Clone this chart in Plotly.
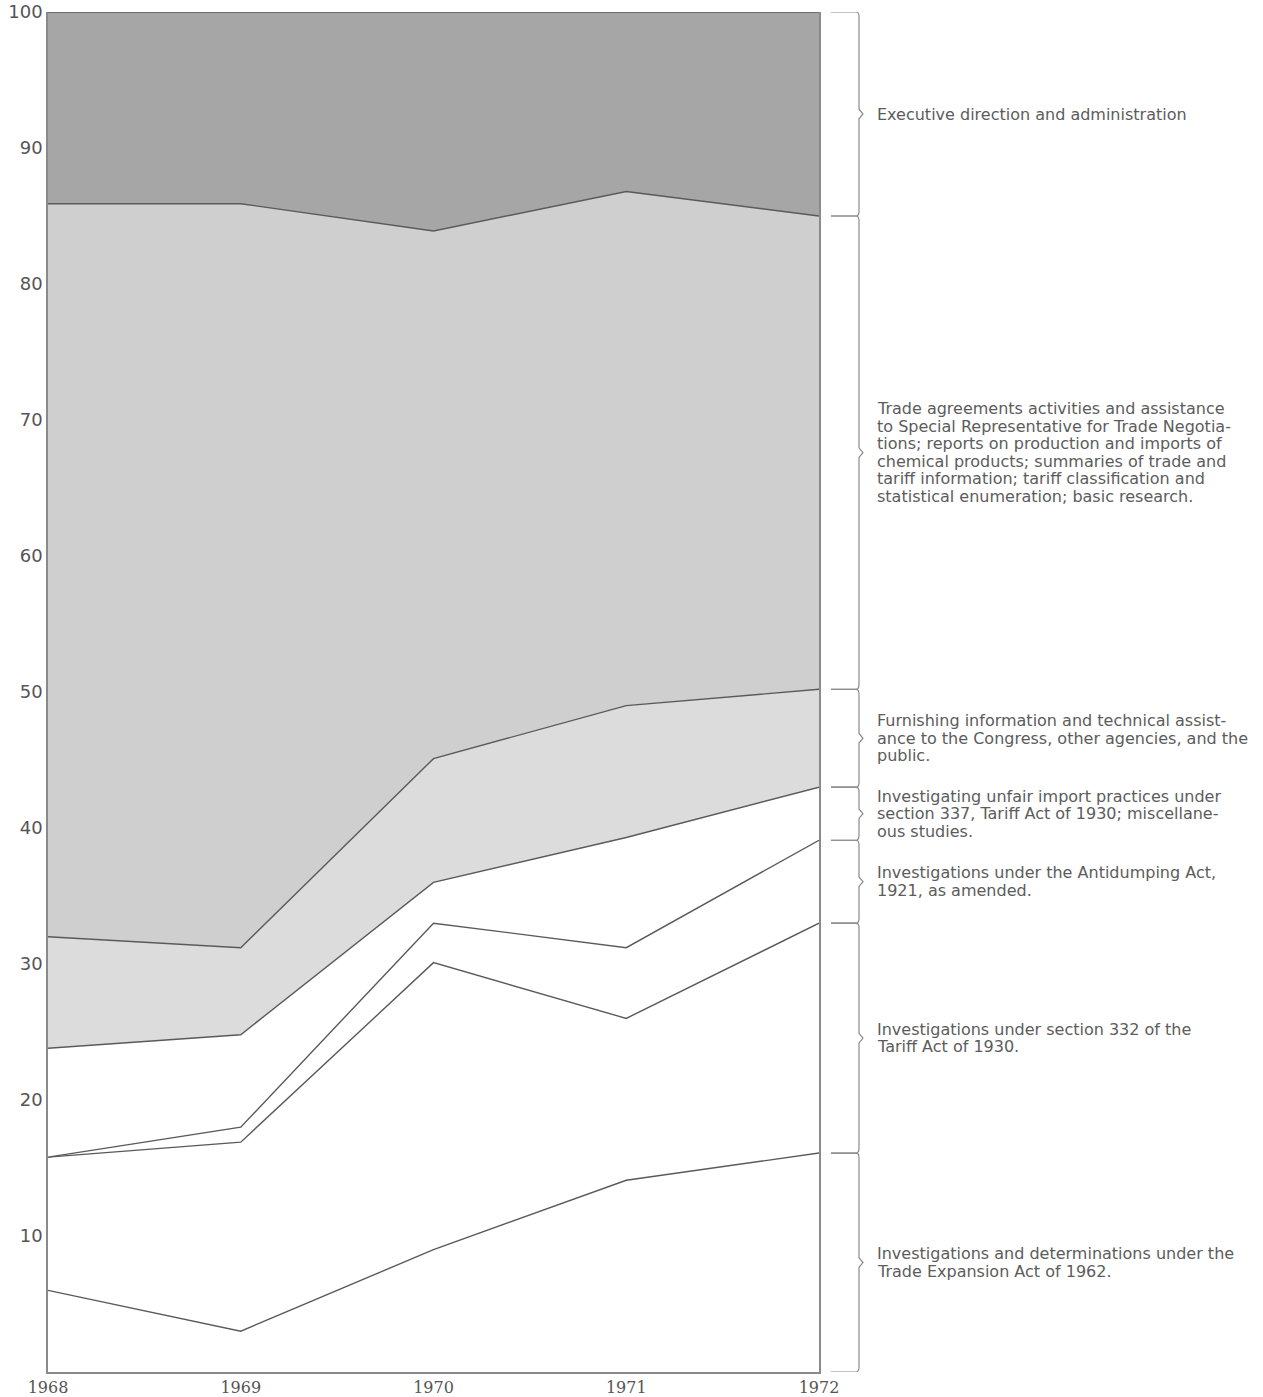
import plotly.graph_objects as go

years = [1968, 1969, 1970, 1971, 1972]

# Percent of total for each activity (bottom to top of the stack)
trade_expansion = [6.0, 3.0, 9.0, 14.1, 16.1]
section_332 = [9.8, 13.9, 21.1, 11.9, 16.9]
antidumping = [0.0, 1.1, 2.9, 5.2, 6.1]
unfair_337 = [8.0, 6.8, 3.0, 8.1, 3.9]
furnishing = [8.2, 6.4, 9.1, 9.7, 7.2]
trade_agreements = [53.9, 54.7, 38.8, 37.8, 34.8]
executive = [14.1, 14.1, 16.1, 13.2, 15.0]

series_names = [
    "Trade Expansion Act",
    "Section 332",
    "Antidumping Act",
    "Section 337",
    "Furnishing information",
    "Trade agreements",
    "Executive direction",
]
series_values = [trade_expansion, section_332, antidumping, unfair_337,
                 furnishing, trade_agreements, executive]
fill_colors = ["#ffffff", "#ffffff", "#ffffff", "#ffffff",
               "#dcdcdc", "#cfcfcf", "#a6a6a6"]

labels = [
    ["Investigations and determinations under the",
     "Trade Expansion Act of 1962."],
    ["Investigations under section 332 of the",
     "Tariff Act of 1930."],
    ["Investigations under the Antidumping Act,",
     "1921, as amended."],
    ["Investigating unfair import practices under",
     "section 337, Tariff Act of 1930; miscellane-",
     "ous studies."],
    ["Furnishing information and technical assist-",
     "ance to the Congress, other agencies, and the",
     "public."],
    ["Trade agreements activities and assistance",
     "to Special Representative for Trade Negotia-",
     "tions; reports on production and imports of",
     "chemical products; summaries of trade and",
     "tariff information; tariff classification and",
     "statistical enumeration; basic research."],
    ["Executive direction and administration"],
]

y_ticks = [10, 20, 30, 40, 50, 60, 70, 80, 90, 100]

fig = go.Figure()
for name, vals, col in zip(series_names, series_values, fill_colors):
    fig.add_trace(go.Scatter(
        x=years, y=vals, name=name, stackgroup="one", mode="lines",
        line=dict(color="#5a5a5a", width=1.4), fillcolor=col,
        hoverinfo="skip",
    ))

# Braces on the right, spanning each activity's 1972 share
plot_left, plot_right = 48, 819
def px_to_paper(px):
    return (px - plot_left) / (plot_right - plot_left)

x0 = px_to_paper(831)
x1 = px_to_paper(856)
xv = px_to_paper(859)
xt = px_to_paper(863)

line_gap = 17.5
cum = 0.0
for vals, lines in zip(series_values, labels):
    lo = cum
    hi = cum + vals[-1]
    cum = hi
    mid = (lo + hi) / 2
    d = 0.35
    path = (f"M {x0},{hi} L {x1},{hi} Q {xv},{hi} {xv},{hi - d} "
            f"L {xv},{mid + d} L {xt},{mid} L {xv},{mid - d} "
            f"L {xv},{lo + d} Q {xv},{lo} {x1},{lo} L {x0},{lo}")
    fig.add_shape(type="path", path=path, xref="paper", yref="y",
                  line=dict(color="#8a8a8a", width=1.2))
    n = len(lines)
    for i, txt in enumerate(lines):
        fig.add_annotation(x=px_to_paper(875), y=mid, xref="paper", yref="y",
                           yshift=((n - 1) / 2 - i) * line_gap,
                           text=txt, showarrow=False, xanchor="left",
                           yanchor="middle", align="left",
                           font=dict(family="DejaVu Sans", size=16,
                                     color="#5c5c5c"))

fig.update_layout(
    width=1263, height=1397,
    margin=dict(l=plot_left, r=1263 - plot_right, t=12, b=25),
    paper_bgcolor="white", plot_bgcolor="white",
    showlegend=False,
)
fig.update_xaxes(
    range=[1968, 1972], tickvals=years, ticktext=[str(y) for y in years],
    showgrid=False, zeroline=False, showline=True, linecolor="#8a8a8a",
    linewidth=1.5, ticks="", automargin=False,
    tickfont=dict(family="DejaVu Serif", size=16, color="#555555"),
)
fig.update_yaxes(
    range=[0, 100], tickvals=y_ticks, ticktext=[str(v) for v in y_ticks],
    showgrid=False, zeroline=False, showline=True, mirror=True,
    linecolor="#8a8a8a", linewidth=1.5, ticks="", automargin=False,
    tickfont=dict(family="DejaVu Sans", size=18, color="#555555"),
)

fig.write_html("out.html", config={"displayModeBar": False},
               post_script="document.body.style.margin='0';")
